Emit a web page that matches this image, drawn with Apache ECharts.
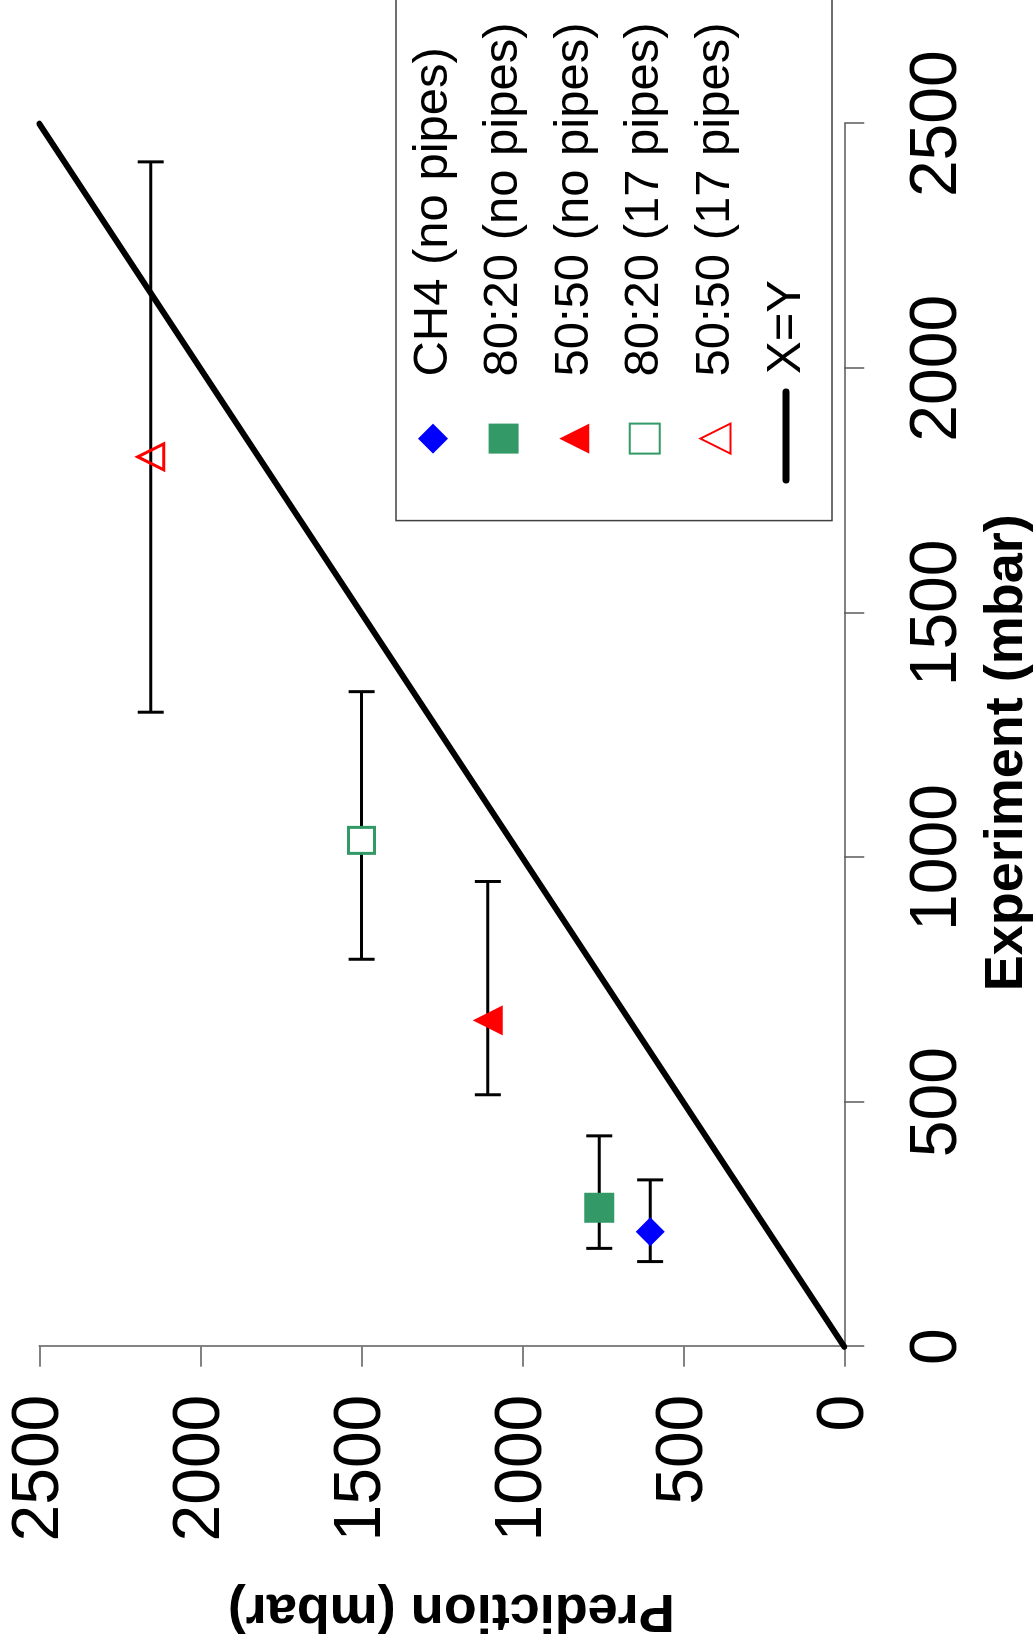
<!DOCTYPE html>
<html>
<head>
<meta charset="utf-8">
<script src="https://cdn.jsdelivr.net/npm/echarts@6/dist/echarts.min.js"></script>
<style>
  html, body { margin: 0; padding: 0; background: #ffffff; overflow: hidden; }
  #stage { position: absolute; left: 0; top: 0; width: 1035px; height: 1650px; overflow: hidden; background: #ffffff; }
  /* the plot is laid out landscape and turned a quarter-turn counter-clockwise */
  #chart {
    position: absolute; left: 0; top: 0;
    width: 1650px; height: 1035px;
    transform-origin: 0 0;
    transform: translateY(1650px) rotate(-90deg);
  }
</style>
</head>
<body>
<div id="stage"><div id="chart"></div></div>
<script>
// Measured vs. predicted pressure (mbar) for each gas mixture
const seriesNames = [
  'CH4 (no pipes)',
  '80:20 (no pipes)',
  '50:50 (no pipes)',
  '80:20 (17 pipes)',
  '50:50 (17 pipes)'
];
const experiment = [235, 284, 667, 1035, 1819];     // x, mbar
const prediction = [603, 761, 1107, 1499, 2154];    // y, mbar
const experimentLow  = [174, 201, 515, 792, 1297];  // x error bar, lower end
const experimentHigh = [341, 431, 951, 1339, 2422]; // x error bar, upper end
const parityName = 'X=Y';
const parityLine = [[0, 0], [2500, 2500]];
const axisMin = 0, axisMax = 2500, axisStep = 500;

const markerStyles = [
  { symbol: 'diamond',  symbolSize: 29, itemStyle: { color: '#0000ff' } },
  { symbol: 'rect',     symbolSize: 30, itemStyle: { color: '#339966' } },
  { symbol: 'triangle', symbolSize: 30, itemStyle: { color: '#ff0000' } },
  { symbol: 'rect',     symbolSize: 26, itemStyle: { color: '#ffffff', borderColor: '#339966', borderWidth: 3 } },
  { symbol: 'triangle', symbolSize: 26, itemStyle: { color: 'rgba(255,255,255,0)', borderColor: '#ff0000', borderWidth: 3 } }
];

const FONT = '"Liberation Sans", Arial, Helvetica, sans-serif';
const AXIS_COLOR = '#5a5a5a';

const chart = echarts.init(document.getElementById('chart'), null, {
  renderer: 'canvas', width: 1650, height: 1035
});

// horizontal error bars with end caps
const errorBarData = experiment.map((_, i) => [experimentLow[i], experimentHigh[i], prediction[i]]);
const errorBars = {
  type: 'custom',
  name: 'error',
  z: 2,
  silent: true,
  data: errorBarData,
  encode: { x: [0, 1], y: 2 },
  renderItem: function (params, api) {
    const lo = api.coord([api.value(0), api.value(2)]);
    const hi = api.coord([api.value(1), api.value(2)]);
    const cap = 13;
    const style = { stroke: '#000000', lineWidth: 3, fill: null };
    return {
      type: 'group',
      children: [
        { type: 'line', shape: { x1: lo[0], y1: lo[1], x2: hi[0], y2: hi[1] }, style: style },
        { type: 'line', shape: { x1: lo[0], y1: lo[1] - cap, x2: lo[0], y2: lo[1] + cap }, style: style },
        { type: 'line', shape: { x1: hi[0], y1: hi[1] - cap, x2: hi[0], y2: hi[1] + cap }, style: style }
      ]
    };
  }
};

const scatterSeries = seriesNames.map((name, i) => ({
  type: 'scatter',
  name: name,
  z: 4,
  symbol: markerStyles[i].symbol,
  symbolSize: markerStyles[i].symbolSize,
  symbolKeepAspect: true,
  itemStyle: Object.assign({ opacity: 1 }, markerStyles[i].itemStyle),
  data: [[experiment[i], prediction[i]]]
}));

const paritySeries = {
  type: 'line',
  name: parityName,
  z: 3,
  symbol: 'none',
  lineStyle: { color: '#000000', width: 6, cap: 'round' },
  itemStyle: { color: '#000000' },
  data: parityLine
};

const valueAxis = {
  type: 'value',
  min: axisMin,
  max: axisMax,
  interval: axisStep,
  splitLine: { show: false },
  axisLine: { show: true, onZero: false, lineStyle: { color: AXIS_COLOR, width: 1.5 } },
  axisTick: { show: true, inside: false, length: 20, lineStyle: { color: AXIS_COLOR, width: 1.5 } },
  nameLocation: 'middle'
};
const plainNumber = v => String(v);

// legend rows: 70.6 px apart, box spans v = 396..831
const legendTop = 396;
const rowPitch = 70.6;
const legendText = { fontFamily: FONT, fontSize: 49, lineHeight: 56, color: '#000000' };

chart.setOption({
  animation: false,
  backgroundColor: '#ffffff',
  textStyle: { fontFamily: FONT },
  grid: {
    left: 303.3, right: 123.7, top: 39.3, bottom: 190.7,
    containLabel: false,
    outerBoundsMode: 'none'
  },
  xAxis: Object.assign({}, valueAxis, {
    name: 'Experiment (mbar)',
    nameGap: 136,
    nameTextStyle: { fontFamily: FONT, fontSize: 54, fontWeight: 'bold', color: '#000000', padding: [0, 35, 0, 0] },
    axisLabel: { margin: 60, fontFamily: FONT, fontSize: 66, color: '#000000', formatter: plainNumber }
  }),
  yAxis: Object.assign({}, valueAxis, {
    name: 'Prediction (mbar)',
    nameGap: 236,
    nameTextStyle: { fontFamily: FONT, fontSize: 54, fontWeight: 'bold', color: '#000000', padding: [0, 19, 0, 0] },
    axisLabel: { margin: 48, fontFamily: FONT, fontSize: 66, color: '#000000', formatter: plainNumber }
  }),
  legend: [
    {
      // marker entries, with the framed box reaching down past the last row
      orient: 'vertical',
      left: 1129.4,
      top: legendTop,
      selectedMode: false,
      data: seriesNames,
      itemWidth: 30,
      itemHeight: 30,
      itemGap: rowPitch - 56,
      padding: [9, 100, 9 + 17 + rowPitch - 8, 66],
      borderColor: '#404040',
      borderWidth: 1.5,
      backgroundColor: '#ffffff',
      textStyle: Object.assign({ padding: [0, 0, 0, 42] }, legendText)
    },
    {
      // the X=Y line entry, sitting in the last row of the same box
      orient: 'vertical',
      left: 1166.5,
      top: legendTop + 9 + 5 * rowPitch,
      selectedMode: false,
      data: [{
        name: parityName,
        itemStyle: { color: 'rgba(0,0,0,0)', borderWidth: 0 },
        lineStyle: { color: '#000000', width: 7, cap: 'round' }
      }],
      itemWidth: 88,
      itemHeight: 30,
      padding: 0,
      borderWidth: 0,
      backgroundColor: 'transparent',
      textStyle: Object.assign({ padding: [0, 0, 0, 13] }, legendText)
    }
  ],
  series: [errorBars, paritySeries].concat(scatterSeries)
});
</script>
</body>
</html>
